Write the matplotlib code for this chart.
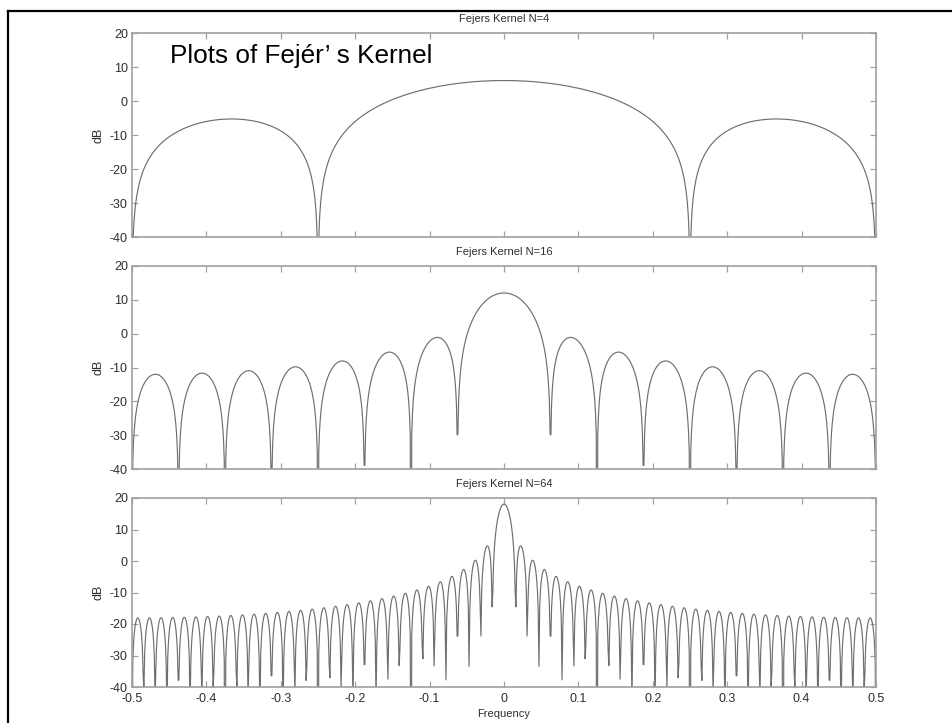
import numpy as np
import matplotlib
matplotlib.use('Agg')
import matplotlib.pyplot as plt
from matplotlib.lines import Line2D

plt.rcParams['font.family'] = ['Liberation Sans', 'DejaVu Sans']
plt.rcParams['axes.unicode_minus'] = False

# --------------------------------------------------------
# Chart data
# --------------------------------------------------------
kernel_orders = [4, 16, 64]
freq_start, freq_stop, freq_step = -0.5, 0.5, 0.001
x_ticks = [-0.5, -0.4, -0.3, -0.2, -0.1, 0, 0.1, 0.2, 0.3, 0.4, 0.5]
x_tick_labels = ['-0.5', '-0.4', '-0.3', '-0.2', '-0.1', '0', '0.1', '0.2', '0.3', '0.4', '0.5']
y_ticks = [-40, -30, -20, -10, 0, 10, 20]
panel_titles = ['Fejers Kernel N=4', 'Fejers Kernel N=16', 'Fejers Kernel N=64']


def fejer_db(f, n):
    """Fejer kernel (1/N)(sin(N pi f)/sin(pi f))^2 in dB."""
    num = np.sin(n * np.pi * f)
    den = np.sin(np.pi * f)
    ratio = np.divide(num, den, out=np.full_like(f, float(n)), where=np.abs(den) > 1e-12)
    k = ratio ** 2 / n
    return 10 * np.log10(np.maximum(k, 1e-12))


freq = np.round(np.arange(freq_start, freq_stop + freq_step / 2, freq_step), 6)

W, H = 952, 723
fig = plt.figure(figsize=(W / 100, H / 100), dpi=100)

# axes boxes in pixels: (top, bottom)
boxes = [(33, 237), (266, 469), (498, 687)]
left, right = 132, 876

line_col = '#6f6f6f'
spine_col = '#a0a0a0'
text_col = '#2e2e2e'

axes = []
for i, (n, (top, bot)) in enumerate(zip(kernel_orders, boxes)):
    ax = fig.add_axes([left / W, 1 - bot / H, (right - left) / W, (bot - top) / H])
    ax.plot(freq, fejer_db(freq, n), color=line_col, lw=0.85)
    ax.set_xlim(-0.5, 0.5)
    ax.set_ylim(-40, 20)
    ax.set_xticks(x_ticks)
    ax.set_yticks(y_ticks)
    ax.tick_params(direction='in', length=4.5, width=0.9, color=spine_col,
                   top=True, right=True, labelsize=9, labelcolor=text_col, pad=3)
    ax.tick_params(axis='x', pad=4)
    if i < 2:
        ax.set_xticklabels([])
    else:
        ax.set_xticklabels(x_tick_labels)
    for s in ax.spines.values():
        s.set_color(spine_col)
        s.set_linewidth(1.2)
    ax.set_ylabel('dB', fontsize=9, color=text_col, labelpad=4)
    ax.set_title(panel_titles[i], fontsize=8, color=text_col, pad=8)
    axes.append(ax)

axes[-1].set_xlabel('Frequency', fontsize=8, color=text_col, labelpad=3)

fig.text(170 / W, 1 - 63 / H, 'Plots of Fej\u00e9r\u2019 s Kernel', fontsize=18.8,
         va='baseline', ha='left', color='black')

# outer frame (top and left edges)
fig.add_artist(Line2D([7.5 / W, 1.0], [1 - 10.5 / H, 1 - 10.5 / H],
                      transform=fig.transFigure, color='black', lw=1.6))
fig.add_artist(Line2D([7.5 / W, 7.5 / W], [1 - 10.5 / H, 0.0],
                      transform=fig.transFigure, color='black', lw=1.6))

fig.savefig('out.png', dpi=100)
